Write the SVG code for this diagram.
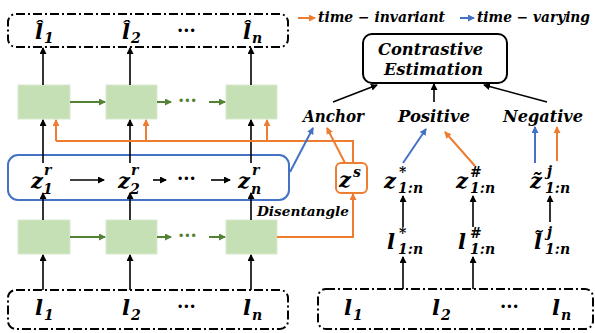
<svg xmlns="http://www.w3.org/2000/svg" width="595" height="333" viewBox="0 0 595 333">
<defs>
<marker id="ab" markerWidth="7" markerHeight="7" refX="6" refY="3.5" orient="auto" markerUnits="userSpaceOnUse"><path d="M0,0 L7,3.5 L0,7 z" fill="#000"/></marker>
<marker id="ao" markerWidth="7" markerHeight="7" refX="6" refY="3.5" orient="auto" markerUnits="userSpaceOnUse"><path d="M0,0 L7,3.5 L0,7 z" fill="#ED7D31"/></marker>
<marker id="al" markerWidth="7" markerHeight="7" refX="6" refY="3.5" orient="auto" markerUnits="userSpaceOnUse"><path d="M0,0 L7,3.5 L0,7 z" fill="#4472C4"/></marker>
<marker id="ag" markerWidth="7" markerHeight="7" refX="6" refY="3.5" orient="auto" markerUnits="userSpaceOnUse"><path d="M0,0 L7,3.5 L0,7 z" fill="#548235"/></marker>
</defs>
<style>
text{font-family:"DejaVu Serif","Liberation Serif",serif;font-weight:bold;font-style:italic;fill:#000}
.m{font-size:21px}
.s{font-size:14px}
.lab{font-size:16px}
.dd{fill:none;stroke:#000;stroke-width:2;stroke-dasharray:9 3 2 3}
.g{fill:#C5E0B4;stroke:#D9EAD0;stroke-width:1}
.k{fill:none;stroke:#000;stroke-width:1.6;marker-end:url(#ab)}
.o{fill:none;stroke:#ED7D31;stroke-width:2;marker-end:url(#ao)}
.on{fill:none;stroke:#ED7D31;stroke-width:2}
.b{fill:none;stroke:#4472C4;stroke-width:2;marker-end:url(#al)}
.gr{fill:none;stroke:#548235;stroke-width:2;marker-end:url(#ag)}
.dots{font-style:normal;font-size:18px}
</style>

<g id="top-output">
<rect class="dd" x="8" y="14" width="280" height="33" rx="8"/>
<text class="m" x="35" y="39">l̂</text><text class="s" x="44" y="43">1</text>
<text class="m" x="122" y="39">l̂</text><text class="s" x="131" y="43">2</text>
<text class="dots" x="177" y="37">···</text>
<text class="m" x="243" y="39">l̂</text><text class="s" x="252" y="43">n</text>
</g>

<g id="upper-rnn">
<rect class="g" x="18" y="85" width="52" height="34"/>
<rect class="g" x="106" y="85" width="51" height="34"/>
<rect class="g" x="226" y="85" width="51" height="34"/>
<text class="dots" x="178" y="107" style="fill:#548235">···</text>
</g>

<g id="zr-box">
<rect x="8" y="155" width="281" height="45" rx="10" fill="none" stroke="#4472C4" stroke-width="2"/>
<text class="m" x="31" y="188">z</text><text class="s" x="44" y="175">r</text><text class="s" x="43" y="194">1</text>
<text class="m" x="118" y="188">z</text><text class="s" x="131" y="175">r</text><text class="s" x="130" y="194">2</text>
<text class="dots" x="177" y="185">···</text>
<text class="m" x="238" y="188">z</text><text class="s" x="252" y="175">r</text><text class="s" x="251" y="194">n</text>
</g>

<g id="lower-rnn">
<rect class="g" x="18" y="220" width="52" height="34"/>
<rect class="g" x="106" y="220" width="51" height="34"/>
<rect class="g" x="226" y="220" width="51" height="34"/>
<text class="dots" x="178" y="242" style="fill:#548235">···</text>
</g>

<g id="bottom-input-left">
<rect class="dd" x="8" y="290" width="280" height="39" rx="8"/>
<text class="m" x="35" y="315">l</text><text class="s" x="44" y="320">1</text>
<text class="m" x="122" y="315">l</text><text class="s" x="131" y="320">2</text>
<text class="dots" x="177" y="313">···</text>
<text class="m" x="243" y="315">l</text><text class="s" x="252" y="320">n</text>
</g>

<g id="zs">
<rect x="336" y="163" width="31" height="30" rx="5" fill="none" stroke="#ED7D31" stroke-width="2"/>
<text class="m" x="339" y="187">z</text><text class="s" x="353" y="177">s</text>
</g>

<g id="disentangle"><text x="257" y="216" font-size="13" textLength="92" lengthAdjust="spacingAndGlyphs">Disentangle</text></g>

<g id="legend">
<text x="318" y="22" font-size="14" textLength="127" lengthAdjust="spacingAndGlyphs">time − invariant</text>
<text x="477" y="22" font-size="14" textLength="113" lengthAdjust="spacingAndGlyphs">time − varying</text>
</g>

<g id="contrastive">
<rect x="363" y="34" width="144" height="49" rx="9" fill="none" stroke="#000" stroke-width="2"/>
<text class="lab" x="378" y="55" textLength="105" lengthAdjust="spacingAndGlyphs">Contrastive</text>
<text class="lab" x="384" y="75" textLength="99" lengthAdjust="spacingAndGlyphs">Estimation</text>
</g>

<g id="anchor"><text class="lab" x="303" y="122" textLength="61" lengthAdjust="spacingAndGlyphs">Anchor</text></g>
<g id="positive"><text class="lab" x="398" y="122" textLength="72" lengthAdjust="spacingAndGlyphs">Positive</text></g>
<g id="negative"><text class="lab" x="503" y="122" textLength="80" lengthAdjust="spacingAndGlyphs">Negative</text></g>

<g id="z-star">
<text class="m" x="384" y="188">z</text><text class="s" x="399" y="177">*</text><text class="s" x="398" y="193">1:n</text>
</g>
<g id="z-hash">
<text class="m" x="456" y="188">z</text><text class="s" x="470" y="177">#</text><text class="s" x="470" y="193">1:n</text>
</g>
<g id="z-tilde">
<text class="m" x="530" y="188">z̃</text><text class="s" x="547" y="176">j</text><text class="s" x="545" y="193">1:n</text>
</g>
<g id="l-star">
<text class="m" x="387" y="249">l</text><text class="s" x="399" y="238">*</text><text class="s" x="398" y="254">1:n</text>
</g>
<g id="l-hash">
<text class="m" x="458" y="249">l</text><text class="s" x="470" y="238">#</text><text class="s" x="470" y="254">1:n</text>
</g>
<g id="l-tilde">
<text class="m" x="534" y="249">l̃</text><text class="s" x="547" y="237">j</text><text class="s" x="545" y="254">1:n</text>
</g>

<g id="bottom-input-right">
<rect class="dd" x="318" y="289" width="275" height="40" rx="8"/>
<text class="m" x="344" y="315">l</text><text class="s" x="353" y="320">1</text>
<text class="m" x="432" y="315">l</text><text class="s" x="441" y="320">2</text>
<text class="dots" x="500" y="313">···</text>
<text class="m" x="552" y="315">l</text><text class="s" x="561" y="320">n</text>
</g>

<g id="connectors">
<line class="o" x1="298" y1="18" x2="315" y2="18"/>
<line class="b" x1="460" y1="18" x2="474" y2="18"/>
<line class="k" x1="43" y1="85" x2="43" y2="48"/>
<line class="k" x1="130" y1="85" x2="130" y2="48"/>
<line class="k" x1="251" y1="85" x2="251" y2="48"/>
<line class="gr" x1="70" y1="102" x2="105" y2="102"/>
<line class="gr" x1="157" y1="102" x2="171" y2="102"/>
<line class="gr" x1="209" y1="102" x2="225" y2="102"/>
<line class="gr" x1="70" y1="237" x2="105" y2="237"/>
<line class="gr" x1="157" y1="237" x2="171" y2="237"/>
<line class="gr" x1="209" y1="237" x2="225" y2="237"/>
<line class="k" x1="70" y1="180" x2="104" y2="180"/>
<line class="k" x1="153" y1="180" x2="166" y2="180"/>
<line class="k" x1="211" y1="180" x2="230" y2="180"/>
<line class="k" x1="43" y1="163" x2="43" y2="120"/>
<line class="k" x1="130" y1="163" x2="130" y2="120"/>
<line class="k" x1="251" y1="163" x2="251" y2="120"/>
<line class="k" x1="43" y1="220" x2="43" y2="193"/>
<line class="k" x1="130" y1="220" x2="130" y2="193"/>
<line class="k" x1="251" y1="220" x2="251" y2="193"/>
<line class="k" x1="43" y1="290" x2="43" y2="255"/>
<line class="k" x1="130" y1="290" x2="130" y2="255"/>
<line class="k" x1="251" y1="290" x2="251" y2="255"/>
<polyline class="on" points="353,163 353,141 56,141"/>
<line class="o" x1="56" y1="141" x2="56" y2="120"/>
<line class="o" x1="146" y1="141" x2="146" y2="120"/>
<line class="o" x1="267" y1="141" x2="267" y2="120"/>
<polyline class="o" points="277,237 353,237 353,194"/>
<line class="o" x1="345" y1="163" x2="327" y2="128"/>
<line class="b" x1="290" y1="172" x2="313" y2="128"/>
<line class="b" x1="403" y1="163" x2="426" y2="129"/>
<line class="o" x1="475" y1="166" x2="445" y2="132"/>
<line class="b" x1="535" y1="163" x2="535" y2="127"/>
<line class="o" x1="557" y1="161" x2="557" y2="127"/>
<line class="k" x1="333" y1="102" x2="377" y2="85"/>
<line class="k" x1="434" y1="102" x2="434" y2="84"/>
<line class="k" x1="547" y1="102" x2="484" y2="85"/>
<line class="k" x1="403" y1="227" x2="403" y2="196"/>
<line class="k" x1="473" y1="227" x2="473" y2="196"/>
<line class="k" x1="550" y1="222" x2="550" y2="196"/>
<line class="k" x1="403" y1="289" x2="403" y2="257"/>
<line class="k" x1="473" y1="289" x2="473" y2="257"/>
</g>
</svg>
